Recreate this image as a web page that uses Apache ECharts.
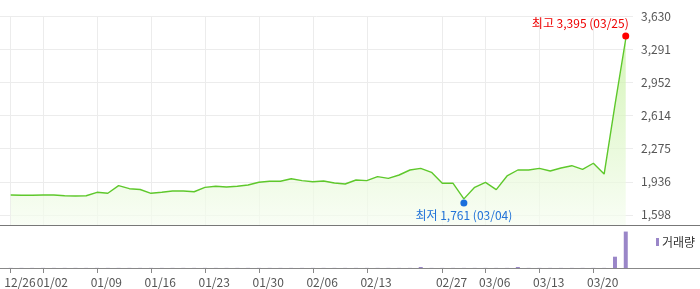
<!DOCTYPE html>
<html>
<head>
<meta charset="utf-8">
<script src="https://cdn.jsdelivr.net/npm/echarts@6/dist/echarts.min.js"></script>
<style>html,body{margin:0;padding:0;background:#fff}#c{width:700px;height:289px}</style>
</head>
<body>
<div id="c"></div>
<script>
const dates = ['12/26','12/27','12/30','01/02','01/03','01/06','01/07','01/08','01/09','01/10',
  '01/13','01/14','01/15','01/16','01/17','01/20','01/21','01/22','01/23','01/24',
  '01/27','01/28','01/29','01/30','01/31','02/03','02/04','02/05','02/06','02/07',
  '02/10','02/11','02/12','02/13','02/14','02/17','02/18','02/19','02/20','02/21',
  '02/27','02/28','03/04','03/05','03/06','03/07','03/10','03/11','03/12','03/13',
  '03/14','03/17','03/18','03/19','03/20','03/21','03/24','03/25'];
const prices = [1801,1798,1798,1801,1800,1793,1790,1793,1828,1818,
  1896,1865,1857,1818,1828,1841,1841,1834,1879,1890,
  1882,1890,1903,1931,1941,1941,1967,1947,1936,1944,
  1923,1913,1954,1947,1988,1971,2005,2056,2073,2032,
  1920,1920,1761,1879,1930,1855,1995,2056,2056,2073,
  2046,2077,2100,2063,2125,2015,2720,3395];
const volumes = [0.3,0.3,0.3,0.3,0.3,0.3,0.3,0.3,0.3,0.3,
  0.3,0.3,0.3,0.3,0.3,0.3,0.3,0.3,0.3,0.3,
  0.3,0.3,0.3,0.3,0.3,0.3,0.3,0.3,0.3,0.3,
  0.3,0.3,0.3,0.3,0.3,0.3,0.3,0.3,2.8,0.3,
  0.3,0.3,0.3,0.3,0.3,0.3,0.3,2.8,0.3,0.3,
  0.3,0.3,0.3,0.3,0.3,0.3,31,100];
const dateTicks = ['12/26','01/02','01/09','01/16','01/23','01/30','02/06','02/13','02/27','03/06','03/13','03/20'];
const priceTicks = [1598,1936,2275,2614,2952,3291,3630];

const tickIdx = dateTicks.map(d => dates.indexOf(d));
const labelShift = 0.86;
const labelIdx = tickIdx.map(i => i + labelShift);
const fmtNum = v => Math.round(v).toLocaleString('en-US');
const maxV = Math.max(...prices), minV = Math.min(...prices);
const maxI = prices.indexOf(maxV), minI = prices.indexOf(minV);
const FONT = '"Noto Sans CJK KR", "Noto Sans", sans-serif';

const chart = echarts.init(document.getElementById('c'), null, {renderer: 'canvas'});
chart.setOption({
  animation: false,
  backgroundColor: '#fff',
  textStyle: {fontFamily: FONT},
  legend: {
    data: ['거래량'], left: 651, top: 231, icon: 'rect', itemWidth: 3, itemHeight: 8, itemGap: 4,
    textStyle: {fontSize: 12, color: '#333', fontFamily: FONT, padding: [0,0,0,-2]}
  },
  grid: [
    {left: 0, top: 16, width: 633, height: 209},
    {left: 0, top: 225, width: 700, height: 43}
  ],
  xAxis: [
    {type: 'value', gridIndex: 0, min: -0.9917, max: 57.674,
     axisLine: {show: false}, axisLabel: {show: false},
     axisTick: {show: false, customValues: tickIdx},
     splitLine: {show: true, lineStyle: {color: '#ececec', width: 1}}},
    {type: 'value', gridIndex: 1, min: -0.9917, max: 63.88, position: 'bottom',
     axisLine: {show: true, lineStyle: {color: '#888', width: 1}},
     axisTick: {show: true, customValues: tickIdx, length: 5, inside: false, lineStyle: {color: '#888'}},
     axisLabel: {show: true, customValues: labelIdx, margin: 8, fontSize: 12, color: '#555', fontFamily: FONT,
       formatter: v => dates[Math.round(v - labelShift)]},
     splitLine: {show: false}},
    {type: 'value', gridIndex: 1, min: -0.9917, max: 63.88, position: 'top',
     axisLine: {show: true, lineStyle: {color: '#777', width: 1}},
     axisTick: {show: false}, axisLabel: {show: false}, splitLine: {show: false}}
  ],
  yAxis: [
    {type: 'value', gridIndex: 0, position: 'right', min: 1494, max: 3630,
     axisLine: {show: false}, axisTick: {show: false, customValues: priceTicks},
     axisLabel: {customValues: priceTicks, margin: 8, fontSize: 12, color: '#555', fontFamily: FONT,
       formatter: v => fmtNum(v)},
     splitLine: {show: true, lineStyle: {color: '#ececec', width: 1}}},
    {type: 'value', gridIndex: 1, min: 0, max: 118, show: false, splitLine: {show: false}}
  ],
  series: [
    {
      name: '가격', type: 'line', xAxisIndex: 0, yAxisIndex: 0,
      data: prices.map((v, i) => [i, v]),
      symbol: 'none', lineStyle: {color: '#5ec82b', width: 1.4},
      areaStyle: {origin: 'start', color: new echarts.graphic.LinearGradient(0, 0, 0, 1, [
        {offset: 0, color: '#c4f09c'}, {offset: 1, color: '#f6fdf1'}])},
      markPoint: {
        symbol: 'circle', symbolSize: 7, silent: true,
        data: [
          {coord: [maxI, maxV], symbolOffset: [0, -3], itemStyle: {color: '#ff0000'},
           label: {show: true, position: 'top', align: 'right', offset: [3, 0], distance: 3,
             formatter: '최고 ' + fmtNum(maxV) + ' (' + dates[maxI] + ')', color: '#ee0000', fontSize: 12, fontFamily: FONT}},
          {coord: [minI, minV], symbolOffset: [0, 4], itemStyle: {color: '#1a6fdc'},
           label: {show: true, position: 'bottom', distance: 3,
             formatter: '최저 ' + fmtNum(minV) + ' (' + dates[minI] + ')', color: '#2273d8', fontSize: 12, fontFamily: FONT}}
        ]
      }
    },
    {
      name: '거래량', type: 'bar', xAxisIndex: 1, yAxisIndex: 1,
      data: volumes.map((v, i) => [i, v]), barWidth: 4,
      itemStyle: {color: '#9a86c8'}
    }
  ]
});
</script>
</body>
</html>
